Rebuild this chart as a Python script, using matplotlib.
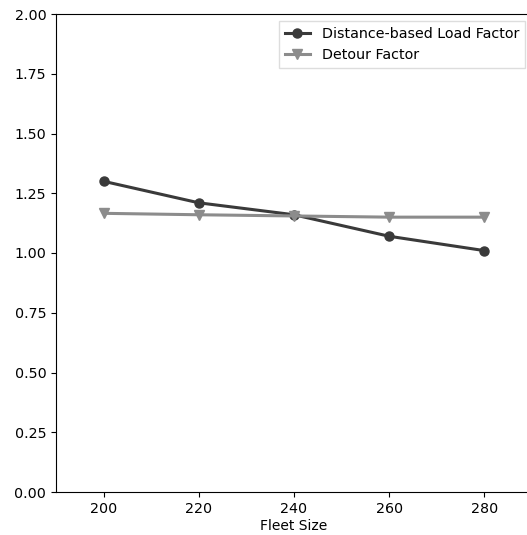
import matplotlib
matplotlib.use("Agg")
import matplotlib.pyplot as plt

fleet_size = [200, 220, 240, 260, 280]
load_factor = [1.30, 1.21, 1.16, 1.07, 1.01]
detour_factor = [1.166, 1.160, 1.155, 1.150, 1.150]

plt.rcParams['font.size'] = 10

fig = plt.figure(figsize=(5.27, 5.35), dpi=100)
# axes run a little past the right edge, as in the original crop
ax = fig.add_axes([56 / 527, 43 / 535, 476 / 527, 478 / 535])

ax.plot(fleet_size, load_factor, color='#3a3a3a', marker='o', linewidth=2.2,
        markersize=6.5, label='Distance-based Load Factor')
ax.plot(fleet_size, detour_factor, color='#8c8c8c', marker='v', linewidth=2.2,
        markersize=6.5, label='Detour Factor')

ax.set_xlim(190, 290)
ax.set_ylim(0, 2)
ax.set_xticks([200, 220, 240, 260, 280])
ax.set_yticks([0, 0.25, 0.5, 0.75, 1.0, 1.25, 1.5, 1.75, 2.0])
ax.spines['right'].set_visible(False)
ax.tick_params(labelsize=10.3)
ax.set_xlabel('Fleet Size', labelpad=2)
ax.legend(loc='upper right', fancybox=False, edgecolor='#dddddd',
          framealpha=1, handlelength=1.8, fontsize=10.3)

fig.savefig('out.png', dpi=100)
